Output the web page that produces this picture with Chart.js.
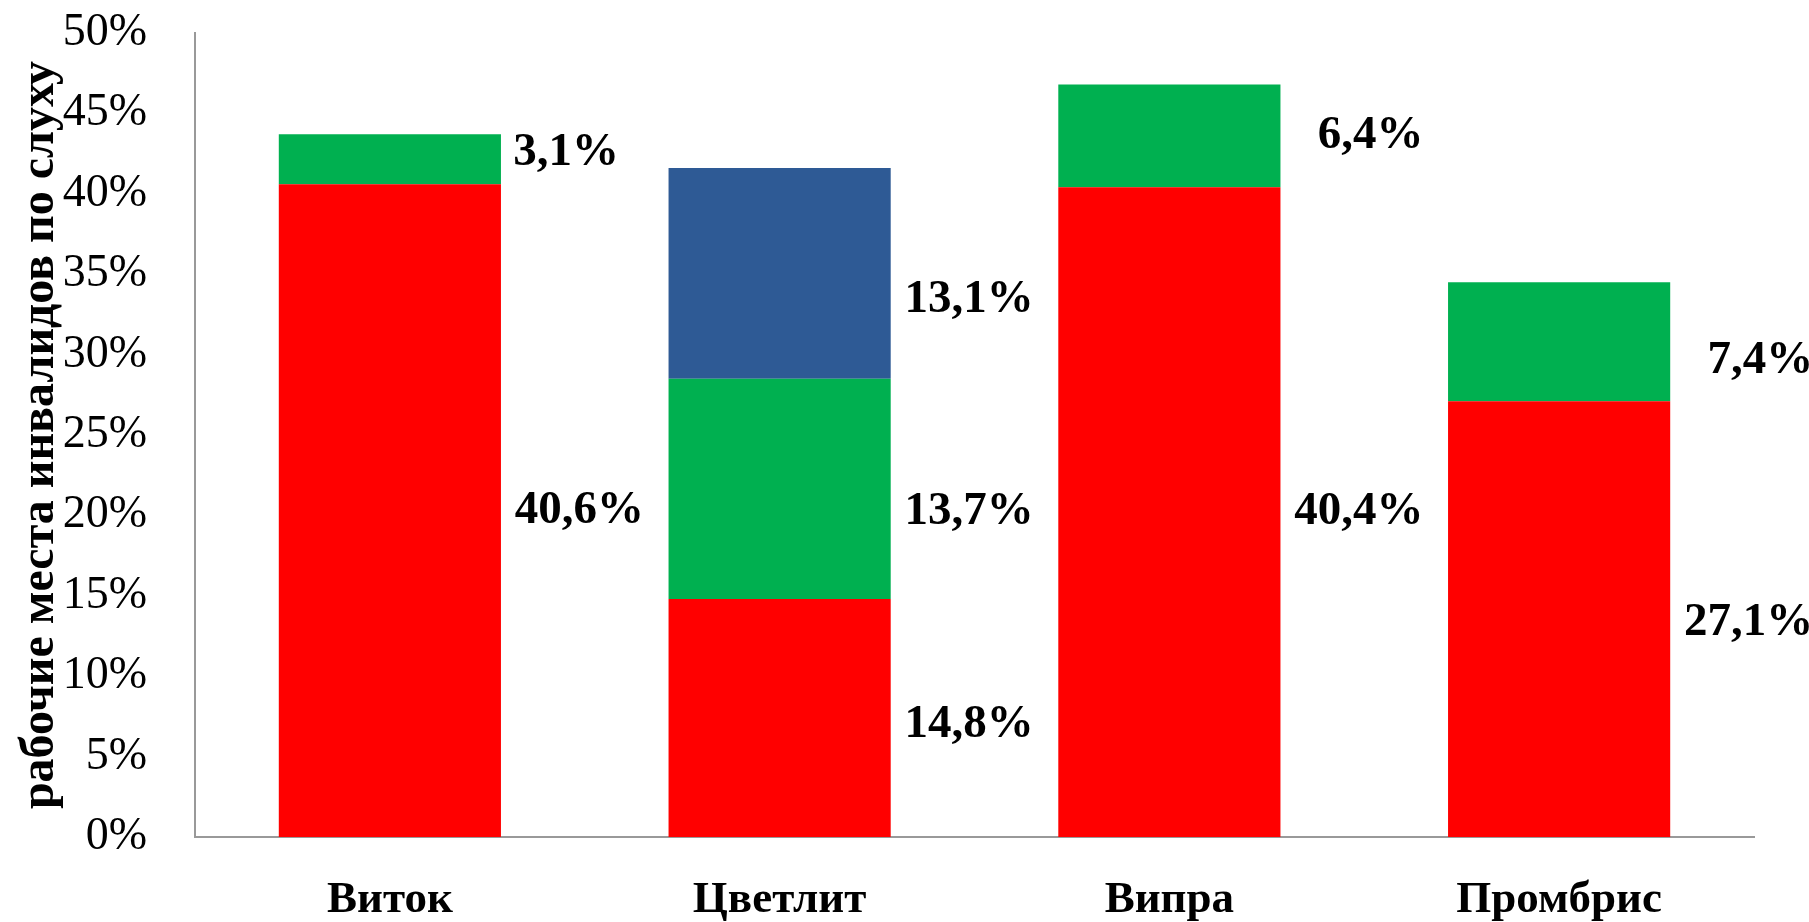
<!DOCTYPE html>
<html>
<head>
<meta charset="utf-8">
<script src="https://cdn.jsdelivr.net/npm/chart.js@4.4.1/dist/chart.umd.min.js"></script>
<style>
  html, body { margin: 0; padding: 0; background: #fff; }
  #wrap { width: 1809px; height: 922px; }
</style>
</head>
<body>
<div id="wrap"><canvas id="chart" width="1809" height="922"></canvas></div>
<script>
// chart data
const categories = ['Виток', 'Цветлит', 'Випра', 'Промбрис'];
const redValues = [40.6, 14.8, 40.4, 27.1];
const greenValues = [3.1, 13.7, 6.4, 7.4];
const blueValues = [null, 13.1, null, null];
const yTicks = [0, 5, 10, 15, 20, 25, 30, 35, 40, 45, 50];
const yTitle = 'рабочие места инвалидов по слуху';

// draws "40,6%" style labels to the right of each bar segment
// (nudge = small hand adjustments like in the original, keyed "dataset-index")
const segmentLabels = {
  id: 'segmentLabels',
  afterDatasetsDraw(chart, args, opts) {
    const ctx = chart.ctx;
    const nudge = opts.nudge || {};
    ctx.save();
    ctx.font = 'bold 47px "Liberation Serif"';
    ctx.fillStyle = '#000';
    ctx.textAlign = 'right';
    ctx.textBaseline = 'middle';
    chart.data.datasets.forEach(function(ds, i) {
      const meta = chart.getDatasetMeta(i);
      meta.data.forEach(function(bar, j) {
        const v = ds.data[j];
        if (v === null || v === undefined) return;
        const n = nudge[i + '-' + j] || [0, 0];
        const right = bar.x + bar.width / 2;
        const midY = (bar.y + bar.base) / 2;
        ctx.fillText(v.toFixed(1).replace('.', ',') + '%', right + 143 + n[0], midY + n[1]);
      });
    });
    ctx.restore();
  }
};

new Chart(document.getElementById('chart'), {
  type: 'bar',
  data: {
    labels: categories,
    datasets: [
      { label: 'red', data: redValues, backgroundColor: '#ff0000', borderWidth: 0 },
      { label: 'green', data: greenValues, backgroundColor: '#00b050', borderWidth: 0 },
      { label: 'blue', data: blueValues, backgroundColor: '#2e5a95', borderWidth: 0 }
    ]
  },
  options: {
    responsive: false,
    animation: false,
    layout: { padding: { top: 33, right: 55, left: 0, bottom: 0 } },
    datasets: { bar: { barPercentage: 0.57, categoryPercentage: 1.0 } },
    plugins: {
      legend: { display: false },
      tooltip: { enabled: false },
      segmentLabels: {
        nudge: {
          '1-0': [-25, -6],
          '0-1': [0, 7], '1-1': [0, 23], '2-1': [0, 26],
          '1-3': [0, 19], '0-3': [0, 4]
        }
      }
    },
    scales: {
      x: {
        stacked: true,
        grid: { display: false, drawTicks: false },
        border: { color: '#999', width: 2 },
        ticks: {
          color: '#000',
          padding: 36,
          font: { family: '"Liberation Serif"', size: 45, weight: 'bold' }
        },
        afterFit(scale) {
          scale.height = 922 - 837;
          scale.paddingLeft = 0; scale.paddingRight = 0;
        }
      },
      y: {
        stacked: true,
        min: 0,
        max: 50,
        afterBuildTicks(scale) { scale.ticks = yTicks.map(v => ({ value: v })); },
        grid: { display: false, drawTicks: false },
        border: { color: '#999', width: 2 },
        ticks: {
          color: '#000',
          padding: 48,
          callback: v => v + '%',
          font: { family: '"Liberation Serif"', size: 46 }
        },
        title: {
          display: true,
          text: yTitle,
          color: '#000',
          padding: { top: 12, bottom: 0 },
          font: { family: '"Liberation Serif"', size: 48, weight: 'bold' }
        },
        afterFit(scale) {
          scale.width = 195;
          scale.paddingTop = 0; scale.paddingBottom = 0;
        }
      }
    }
  },
  plugins: [segmentLabels]
});
</script>
</body>
</html>
